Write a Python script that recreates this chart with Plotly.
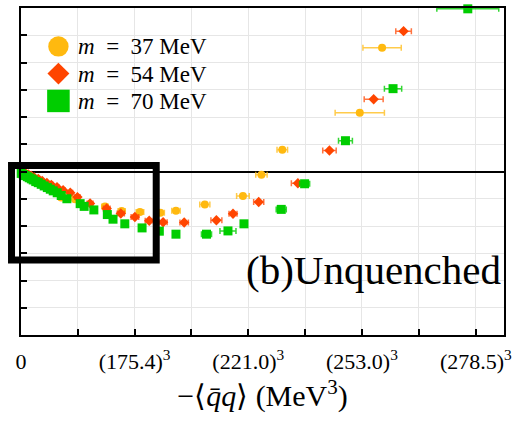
import plotly.graph_objects as go

# x: -<qbar q> in units of 10^6 MeV^3 ; y: arbitrary units
x37 = [0.01, 0.16, 0.30, 0.44, 0.63, 0.82, 1.06, 1.29, 1.58, 1.91, 2.57, 3.99, 4.78, 5.65, 6.62, 7.36, 8.73, 10.54, 11.42, 12.41, 16.09, 17.15]
y37 = [-0.02, -0.07, -0.13, -0.18, -0.26, -0.34, -0.44, -0.55, -0.68, -0.95, -1.02, -1.28, -1.45, -1.49, -1.51, -1.44, -1.21, -0.90, -0.12, 0.80, 2.16, 4.54]
e37 = [0.05, 0.05, 0.05, 0.05, 0.05, 0.06, 0.06, 0.07, 0.08, 0.10, 0.12, 0.15, 0.17, 0.18, 0.19, 0.20, 0.24, 0.30, 0.27, 0.25, 1.17, 0.91]

x54 = [0.06, 0.20, 0.35, 0.49, 0.63, 0.82, 1.01, 1.23, 1.44, 1.71, 2.00, 2.34, 2.68, 3.28, 4.07, 4.74, 5.41, 6.09, 6.75, 7.75, 9.28, 10.07, 11.29, 13.15, 14.65, 16.75, 18.17]
y54 = [-0.02, -0.05, -0.11, -0.16, -0.22, -0.27, -0.35, -0.42, -0.49, -0.58, -0.69, -0.78, -0.94, -1.17, -1.36, -1.54, -1.67, -1.81, -1.86, -1.87, -1.79, -1.55, -1.12, -0.43, 0.77, 2.65, 5.15]
e54 = [0.05, 0.05, 0.05, 0.05, 0.05, 0.06, 0.06, 0.07, 0.08, 0.09, 0.10, 0.11, 0.12, 0.14, 0.16, 0.17, 0.18, 0.19, 0.19, 0.20, 0.26, 0.19, 0.24, 0.31, 0.32, 0.45, 0.37]

x70 = [0.01, 0.11, 0.20, 0.30, 0.39, 0.49, 0.58, 0.70, 0.82, 0.96, 1.10, 1.25, 1.39, 1.53, 1.72, 1.91, 2.18, 2.81, 3.00, 3.46, 4.10, 4.37, 4.93, 5.75, 6.57, 7.36, 8.81, 9.83, 10.59, 12.36, 13.47, 15.41, 17.67, 21.22]
y70 = [-0.07, -0.11, -0.15, -0.19, -0.23, -0.27, -0.31, -0.37, -0.41, -0.47, -0.53, -0.59, -0.65, -0.71, -0.78, -0.88, -1.00, -1.18, -1.28, -1.41, -1.58, -1.75, -1.92, -2.07, -2.19, -2.30, -2.30, -2.18, -1.92, -1.39, -0.45, 1.13, 3.04, 5.97]
e70 = [0.04, 0.04, 0.04, 0.04, 0.04, 0.04, 0.05, 0.05, 0.05, 0.05, 0.06, 0.06, 0.06, 0.07, 0.07, 0.08, 0.08, 0.09, 0.09, 0.10, 0.10, 0.11, 0.11, 0.12, 0.13, 0.14, 0.24, 0.38, 0.10, 0.24, 0.24, 0.33, 0.41, 1.47]

masses = ["37", "54", "70"]
colors = ["#FFB90F", "#FF4500", "#00CD00"]
err_colors = ["rgba(255,185,15,0.75)", "rgba(255,69,0,0.75)", "rgba(0,205,0,0.8)"]
symbols = ["circle", "diamond", "square"]
sizes = [8, 8, 9]

tick_labels = ["0", "175.4", "221.0", "253.0", "278.5"]

W, H = 518, 431
ML, MR, MT, MB = 21, 13, 6, 96
PW, PH = W - ML - MR, H - MT - MB


def px(xp):
    return (xp - ML) / PW


def py(yp):
    return (H - MB - yp) / PH


fig = go.Figure()
series = [(x37, y37, e37), (x54, y54, e54), (x70, y70, e70)]
for i, (xs, ys, es) in enumerate(series):
    fig.add_trace(go.Scatter(
        x=xs, y=ys, mode="markers", name="m = " + masses[i] + " MeV",
        showlegend=False,
        marker=dict(color=colors[i], symbol=symbols[i], size=sizes[i], line=dict(width=0)),
        error_x=dict(type="data", array=es, color=err_colors[i], thickness=1.5, width=3),
        cliponaxis=False,
    ))

# x ticks: labelled ones at v^3, unlabelled (minor) midpoints between
lab_vals = [0.0] + [float(v) ** 3 / 1e6 for v in tick_labels[1:]]
ticktext = ["0"] + ["(" + t + ")<sup>3</sup>" for t in tick_labels[1:]]
minor_vals = [(lab_vals[k] + lab_vals[k + 1]) / 2 for k in range(len(lab_vals) - 1)]

font_family = "Liberation Serif"

# legend drawn as key shapes + text annotations
shapes = [dict(type="rect", xref="paper", yref="paper",
               x0=px(11.5), x1=px(156.5), y0=py(259.5), y1=py(164.5),
               line=dict(color="black", width=7), fillcolor="rgba(0,0,0,0)")]
annotations = [dict(text="(b)Unquenched", xref="paper", yref="paper",
                    x=px(504), y=py(270), xanchor="right", yanchor="middle", showarrow=False,
                    font=dict(size=41, family=font_family, color="black"))]
row_y = [44.7, 72, 99.5]
kx = 58.5
for i in range(3):
    cy = row_y[i]
    if symbols[i] == "circle":
        shapes.append(dict(type="circle", xref="paper", yref="paper",
                           x0=px(kx - 10.2), x1=px(kx + 10.2), y0=py(cy + 10.2), y1=py(cy - 10.2),
                           line=dict(width=0), fillcolor=colors[i]))
    elif symbols[i] == "diamond":
        path = "M {a},{b} L {c},{d} L {a},{e} L {f},{d} Z".format(
            a=px(kx), b=py(cy - 11), c=px(kx + 11), d=py(cy), e=py(cy + 11), f=px(kx - 11))
        shapes.append(dict(type="path", xref="paper", yref="paper", path=path,
                           line=dict(width=0), fillcolor=colors[i]))
    else:
        shapes.append(dict(type="rect", xref="paper", yref="paper",
                           x0=px(kx - 11.3), x1=px(kx + 11.3), y0=py(cy + 11.3), y1=py(cy - 11.3),
                           line=dict(width=0), fillcolor=colors[i]))
    annotations.append(dict(text="<i>m</i>\u2002=\u2002" + masses[i] + " MeV",
                            xref="paper", yref="paper",
                            x=px(78), y=py(cy + 0.5), xanchor="left", yanchor="middle",
                            showarrow=False, borderpad=0, borderwidth=0,
                            font=dict(size=23, family=font_family, color="black")))

fig.update_layout(
    width=W, height=H,
    margin=dict(l=ML, r=MR, t=MT, b=MB),
    paper_bgcolor="white", plot_bgcolor="white",
    font=dict(family=font_family, color="black"),
    showlegend=False,
    xaxis=dict(range=[0, 22.94], tickmode="array", tickvals=lab_vals, ticktext=ticktext,
               ticks="inside", ticklen=6, tickwidth=1.5, tickcolor="black",
               minor=dict(tickmode="array", tickvals=minor_vals, ticks="inside", ticklen=6,
                          tickwidth=1.5, tickcolor="black", showgrid=True,
                          gridcolor="#e6e6e6", gridwidth=1),
               showline=True, linecolor="black", linewidth=2, mirror=True,
               showgrid=True, gridcolor="#e6e6e6", gridwidth=1, zeroline=False,
               tickfont=dict(size=22, family=font_family), ticklabelstandoff=6,
               title=dict(text="−⟨<i>q̄q</i>⟩ (MeV<sup>3</sup>)", font=dict(size=30, family=font_family), standoff=12)),
    yaxis=dict(range=[-6, 6], dtick=1, tick0=0, showticklabels=False,
               ticks="inside", ticklen=6, tickwidth=1.5, tickcolor="black",
               showline=True, linecolor="black", linewidth=2, mirror=True,
               showgrid=True, gridcolor="#e6e6e6", gridwidth=1,
               zeroline=True, zerolinecolor="black", zerolinewidth=2),
    shapes=shapes,
    annotations=annotations,
)
fig.write_html("out.html")
